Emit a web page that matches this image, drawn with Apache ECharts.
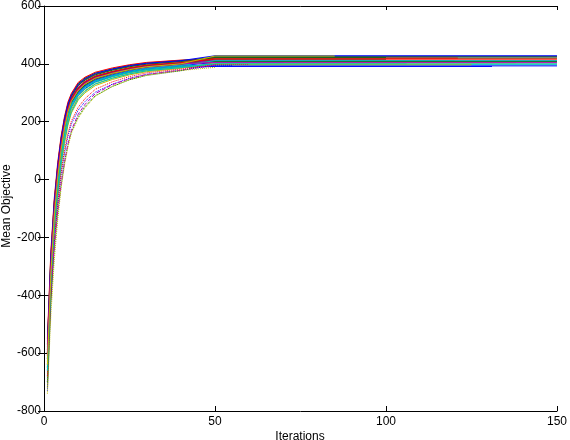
<!DOCTYPE html>
<html>
<head>
<meta charset="utf-8">
<script src="https://cdn.jsdelivr.net/npm/echarts@6/dist/echarts.min.js"></script>
<style>
html,body{margin:0;padding:0;background:#fff;}
#chart{width:570px;height:440px;}
</style>
</head>
<body>
<div id="chart"></div>
<script>
// Iterations at which each run's mean objective was read
const ITERS = [1, 2, 3, 4, 5, 6, 7, 8, 10, 12, 15, 20, 25, 30, 40];

// Mean objective per run at ITERS
const runs = [
  [-700,-380,-180,-40,70,150,210,250,292,315,338,357,371,380,388],
  [-650,-330,-130,0,105,180,238,272,310,330,350,368,382,392,402],
  [-590,-300,-110,20,118,192,245,278,315,335,354,371,384,393,403],
  [-620,-340,-150,-20,85,163,222,260,298,320,341,359,372,381,390],
  [-560,-280,-95,30,125,198,250,284,320,340,358,374,386,395,404],
  [-720,-400,-200,-60,45,125,188,230,275,300,325,346,362,373,385],
  [-600,-290,-100,25,120,193,246,280,318,338,357,373,385,394,403],
  [-660,-350,-140,-10,95,170,228,264,302,324,345,362,375,384,394],
  [-580,-270,-80,45,140,210,262,294,332,351,368,383,395,403,412],
  [-610,-320,-125,10,108,182,238,273,310,331,351,368,381,390,400],
  [-690,-370,-165,-35,70,150,210,250,290,313,336,355,369,379,389],
  [-640,-330,-135,-5,97,174,231,267,305,327,347,365,378,388,398],
  [-570,-260,-75,50,145,212,262,293,328,347,365,380,392,400,408],
  [-630,-320,-120,15,112,186,241,276,314,335,354,370,383,392,402],
  [-680,-360,-150,-15,90,166,224,261,299,321,342,360,373,383,392],
  [-600,-290,-95,35,130,203,255,288,325,344,362,378,390,399,408],
  [-550,-250,-65,58,150,218,268,298,336,354,371,386,397,405,413],
  [-670,-360,-155,-25,80,160,219,257,296,319,340,358,371,381,391],
  [-620,-310,-115,17,114,188,242,277,315,336,355,371,384,393,402],
  [-700,-390,-185,-50,60,140,200,242,284,308,331,351,366,376,387],
  [-590,-280,-90,37,132,205,256,289,327,346,364,380,392,400,409],
  [-730,-420,-220,-90,15,90,150,192,240,270,302,330,350,364,378],
  [-700,-430,-250,-120,-20,60,120,165,218,252,290,322,345,360,376],
  [-680,-400,-210,-80,25,100,160,202,250,280,312,338,356,369,382],
  [-640,-360,-170,-45,55,135,195,235,280,305,330,350,365,376,387],
  [-620,-380,-230,-110,-15,60,122,170,226,260,297,328,349,363,378],
  [-740,-470,-280,-140,-30,50,112,160,212,248,288,322,345,361,377],
  [-600,-300,-105,23,118,190,244,279,316,337,356,372,385,394,403],
  [-570,-265,-78,47,142,210,260,292,330,349,367,382,394,402,411],
  [-650,-340,-140,-8,98,174,231,267,305,327,348,366,379,389,399],
  [-600,-300,-105,25,120,192,245,279,317,338,357,373,386,395,404],
  [-660,-350,-150,-20,85,163,222,260,298,321,342,360,374,384,394],
  [-610,-310,-118,13,110,184,238,273,311,332,351,368,381,390,400],
  [-640,-330,-130,5,102,178,234,270,308,330,350,367,380,390,400]
];

// Final plateau value and last iteration of each run
const plateau = [391,426,413,397,410,404,410,405,420,420,400,410,403,412,393,422,414,398,412,397,424,395,390,398,400,396,388,416,428,408,417,411,405,427];
const runEnd  = [131,150,150,150,150,138,120,70,150,121,106,85,150,60,150,100,45,95,75,125,150,55,45,60,150,50,50,100,150,150,150,150,150,85];

// Axis ticks
const xTicks = [0, 50, 100, 150];
const yTicks = [-800, -600, -400, -200, 0, 200, 400, 600];

const palette = ['#0000FF','#008000','#FF0000','#00BFBF','#BF00BF','#BFBF00','#404040'];
const lineTypes = {21:'dotted', 22:'dotted', 23:'dotted', 25:'dashed', 26:'dotted'};

const series = runs.map((vals, i) => {
  const data = ITERS.map((x, k) => [x, vals[k]]);
  if (runEnd[i] > 50) data.push([50, plateau[i]]);
  data.push([runEnd[i], plateau[i]]);
  return {
    type: 'line',
    data: data,
    showSymbol: false,
    symbol: 'none',
    silent: true,
    lineStyle: { width: 1, color: palette[i % 7], type: lineTypes[i] || 'solid' },
    z: 2
  };
});

const FONT = '"Liberation Sans", Arial, Helvetica, sans-serif';
const tickStyle = { color: '#000', width: 1 };
const chart = echarts.init(document.getElementById('chart'), null, { renderer: 'canvas' });
chart.setOption({
  animation: false,
  backgroundColor: '#ffffff',
  grid: { left: 44, right: 9, top: 4, bottom: 29, containLabel: false },
  xAxis: [
    {
      type: 'value', position: 'bottom',
      min: xTicks[0], max: xTicks[xTicks.length - 1], interval: 50,
      axisLine: { show: true, onZero: false, lineStyle: { color: '#000', width: 1 } },
      axisTick: { show: true, inside: true, length: 5, lineStyle: tickStyle },
      axisLabel: { color: '#000', fontSize: 12, fontFamily: FONT, margin: 5 },
      splitLine: { show: false }
    },
    {
      type: 'value', position: 'top',
      min: xTicks[0], max: xTicks[xTicks.length - 1], interval: 50,
      axisLine: { show: true, onZero: false, lineStyle: { color: '#000', width: 1 } },
      axisTick: { show: true, inside: true, length: 4, lineStyle: tickStyle },
      axisLabel: { show: false },
      splitLine: { show: false }
    }
  ],
  yAxis: [
    {
      type: 'value', position: 'left',
      min: yTicks[0], max: yTicks[yTicks.length - 1], interval: 200,
      axisLine: { show: true, onZero: false, lineStyle: { color: '#000', width: 1 } },
      axisTick: { show: true, inside: true, length: 5, lineStyle: tickStyle },
      axisLabel: { color: '#000', fontSize: 12, fontFamily: FONT, margin: 3 },
      splitLine: { show: false }
    },
    {
      type: 'value', position: 'right',
      min: yTicks[0], max: yTicks[yTicks.length - 1], interval: 200,
      axisLine: { show: false },
      axisTick: { show: true, inside: true, length: 6, lineStyle: tickStyle },
      axisLabel: { show: false },
      splitLine: { show: false }
    }
  ],
  graphic: [
    {
      type: 'text', x: 7, y: 206, rotation: Math.PI / 2,
      style: { text: 'Mean Objective', fill: '#000', font: '12px ' + FONT, textAlign: 'center', textVerticalAlign: 'middle' }
    },
    {
      type: 'text', x: 300, y: 431,
      style: { text: 'Iterations', fill: '#000', font: '12px ' + FONT, textAlign: 'center', textVerticalAlign: 'top' }
    }
  ],
  series: series
});
</script>
</body>
</html>
